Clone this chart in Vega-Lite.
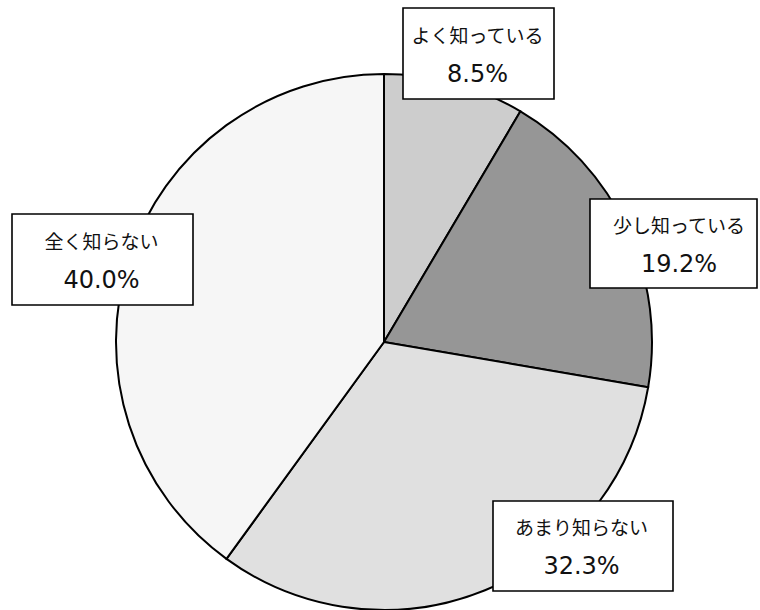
{
  "$schema": "https://vega.github.io/schema/vega-lite/v6.json",
  "width": 760,
  "height": 610,
  "autosize": "none",
  "padding": 0,
  "background": "white",
  "config": {"view": {"stroke": null}},
  "data": {
    "values": [
      {"idx": 1, "cat": "よく知っている", "value": 8.5, "label": "8.5%"},
      {"idx": 2, "cat": "少し知っている", "value": 19.2, "label": "19.2%"},
      {"idx": 3, "cat": "あまり知らない", "value": 32.3, "label": "32.3%"},
      {"idx": 4, "cat": "全く知らない", "value": 40.0, "label": "40.0%"}
    ]
  },
  "layer": [
    {
      "mark": {"type": "arc", "outerRadius": 268, "x": 384, "y": 342, "stroke": "black", "strokeWidth": 2},
      "encoding": {
        "theta": {"field": "value", "type": "quantitative", "stack": true},
        "order": {"field": "idx", "type": "quantitative"},
        "color": {
          "field": "cat",
          "type": "nominal",
          "scale": {
            "domain": ["よく知っている", "少し知っている", "あまり知らない", "全く知らない"],
            "range": ["#cdcdcd", "#969696", "#e0e0e0", "#f6f6f6"]
          },
          "legend": null
        }
      }
    },
    {
      "mark": {"type": "point", "filled": true, "fill": "white", "stroke": "black", "strokeWidth": 1.6, "opacity": 1, "size": 10000},
      "encoding": {
        "x": {"field": "value", "type": "quantitative", "axis": null,
              "scale": {"domain": [8.5, 19.2, 32.3, 40.0], "range": [477.5, 679, 581.5, 101.5], "nice": false, "zero": false}},
        "y": {"field": "value", "type": "quantitative", "axis": null,
              "scale": {"domain": [8.5, 19.2, 32.3, 40.0], "range": [53.5, 243.5, 546, 259.5], "nice": false, "zero": false}},
        "shape": {
          "field": "cat",
          "type": "nominal",
          "scale": {
            "domain": ["よく知っている", "少し知っている", "あまり知らない", "全く知らない"],
            "range": [
              "M-1.49,-0.91L1.53,-0.91L1.53,0.91L-1.49,0.91Z",
              "M-1.78,-0.89L1.56,-0.89L1.56,0.89L-1.78,0.89Z",
              "M-1.77,-0.9L1.83,-0.9L1.83,0.9L-1.77,0.9Z",
              "M-1.79,-0.91L1.83,-0.91L1.83,0.91L-1.79,0.91Z"
            ]
          },
          "legend": null
        }
      }
    },
    {
      "mark": {"type": "text", "font": "Noto Sans CJK JP", "fontSize": 19, "color": "#111111", "baseline": "middle", "align": "center", "dy": -17},
      "encoding": {
        "x": {"field": "value", "type": "quantitative", "axis": null},
        "y": {"field": "value", "type": "quantitative", "axis": null},
        "text": {"field": "cat", "type": "nominal"}
      }
    },
    {
      "mark": {"type": "text", "font": "DejaVu Sans", "fontSize": 24, "color": "#111111", "baseline": "middle", "align": "center", "dy": 21},
      "encoding": {
        "x": {"field": "value", "type": "quantitative", "axis": null},
        "y": {"field": "value", "type": "quantitative", "axis": null},
        "text": {"field": "label", "type": "nominal"}
      }
    }
  ]
}
